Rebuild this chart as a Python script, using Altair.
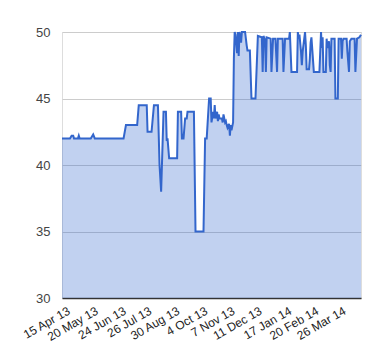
import altair as alt
import pandas as pd

# days since 31 Mar 2013 and the plotted value at that day
days = [0, 10, 12, 14, 15, 20, 21, 22, 36, 39, 41, 77, 80, 94, 96, 106, 107, 112, 115, 120,
        122, 124, 126, 127, 130, 131, 132, 134, 144, 145, 149, 150, 152, 154, 156, 157, 165,
        167, 177, 179, 181, 184, 186, 187, 189, 190, 191, 192, 194, 195, 196, 197, 200, 201,
        202, 204, 205, 206, 207, 209, 210, 211, 212, 214, 215, 216, 217, 219, 220, 221, 222,
        224, 225, 229, 231, 232, 235, 237, 242, 245, 250, 251, 252, 254, 255, 256, 261, 262,
        264, 267, 269, 270, 276, 277, 279, 284, 285, 286, 287, 294, 295, 296, 297, 299, 300,
        301, 304, 305, 306, 309, 310, 311, 312, 315, 322, 324, 325, 326, 327, 330, 331, 332,
        334, 335, 336, 337, 341, 342, 345, 346, 349, 350, 351, 352, 356, 357, 359, 360, 362,
        366, 367, 369, 372, 374]
values = [42, 42, 42.2, 42.2, 42, 42, 42.2, 42, 42, 42.3, 42, 42, 43, 43, 44.5, 44.5, 42.5, 42.5, 44.5, 44.5,
          40, 38, 42, 44, 44, 41.8, 42, 40.5, 40.5, 44, 44, 42, 42, 43.5, 43.5, 44, 44,
          35, 35, 42, 42, 45, 45, 43.2, 44, 43.5, 44.5, 43.5, 44, 43.3, 43.8, 43.5, 43.5, 43.2,
          43.8, 43.2, 43.3, 43, 42.8, 43.1, 42.2, 43, 42.6, 43.2, 48, 50, 49.8, 48.4, 50, 48.2, 50,
          49.2, 50, 50, 49, 48.6, 48.6, 45, 45, 49.7, 49.6, 47, 49.7, 49.4, 47, 49.6, 49.5, 47,
          49.5, 49.5, 47, 49.5, 49.5, 47, 49.5, 49.5, 50, 48.5, 47, 47, 50, 49.5, 49.8, 48.5, 47.5,
          48.5, 50, 49, 47.2, 47.2, 48, 49.2, 49.6, 47, 47, 50, 48.8, 49.6, 47, 47, 49.5, 48.8,
          49.3, 47.5, 47, 49.5, 49.5, 45, 45, 49.5, 49.5, 48, 49.3, 49.5, 49.5, 48.5, 47, 49.3, 49.5,
          49.5, 47, 49.5, 49.6, 49.8]
start_date = "2013-03-31"
end_date = (2014, 4, 9)
tick_dates = [(2013, 4, 15), (2013, 5, 20), (2013, 6, 24), (2013, 7, 26), (2013, 8, 30),
              (2013, 10, 4), (2013, 11, 7), (2013, 12, 11), (2014, 1, 17), (2014, 2, 20),
              (2014, 3, 26)]
y_ticks = [30, 35, 40, 45, 50]

dates = pd.Timestamp(start_date) + pd.to_timedelta(days, unit="D")
df = pd.DataFrame({"date": dates.strftime("%Y-%m-%d"), "value": values})

sy, sm, sd = [int(p) for p in start_date.split("-")]
x_enc = alt.X(
    "date:T",
    scale=alt.Scale(type="utc",
                    domain=[alt.DateTime(year=sy, month=sm, date=sd, utc=True),
                            alt.DateTime(year=end_date[0], month=end_date[1], date=end_date[2], utc=True)]),
    axis=alt.Axis(
        values=[alt.DateTime(year=y, month=m, date=d, utc=True) for y, m, d in tick_dates],
        format="%-d %b %y", labelAngle=330, labelAlign="right", labelBaseline="top",
        labelFontSize=12, labelColor="#222222", labelOverlap=False, labelBound=False,
        labelFlush=False, labelPadding=7, labelOffset=-8, ticks=False, grid=False,
        domainColor="#333333", domainWidth=1.5, title=None,
        labelFont="Liberation Sans"),
)
y_enc = alt.Y(
    "value:Q",
    scale=alt.Scale(domain=[30, 50], zero=False, nice=False),
    axis=alt.Axis(values=y_ticks, grid=True, gridColor="#cccccc", domain=False, ticks=False,
                  labelPadding=12, labelFontSize=13, labelColor="#444444", title=None,
                  labelFont="Liberation Sans"),
)

area = alt.Chart(df).mark_area(color="#3366cc", opacity=0.3, clip=True).encode(
    x=x_enc, y=y_enc, y2=alt.datum(30))
line = alt.Chart(df).mark_line(color="#3366cc", strokeWidth=2, clip=False).encode(
    x=x_enc, y=y_enc)

chart = alt.layer(area, line).properties(
    width=299, height=266,
    autosize=alt.AutoSizeParams(type="none"),
    padding={"left": 54, "top": 24, "right": 11, "bottom": 54},
).configure_view(stroke=None).configure(font="Liberation Sans")

chart.save("out.html", embed_options={"renderer": "svg", "actions": False})
